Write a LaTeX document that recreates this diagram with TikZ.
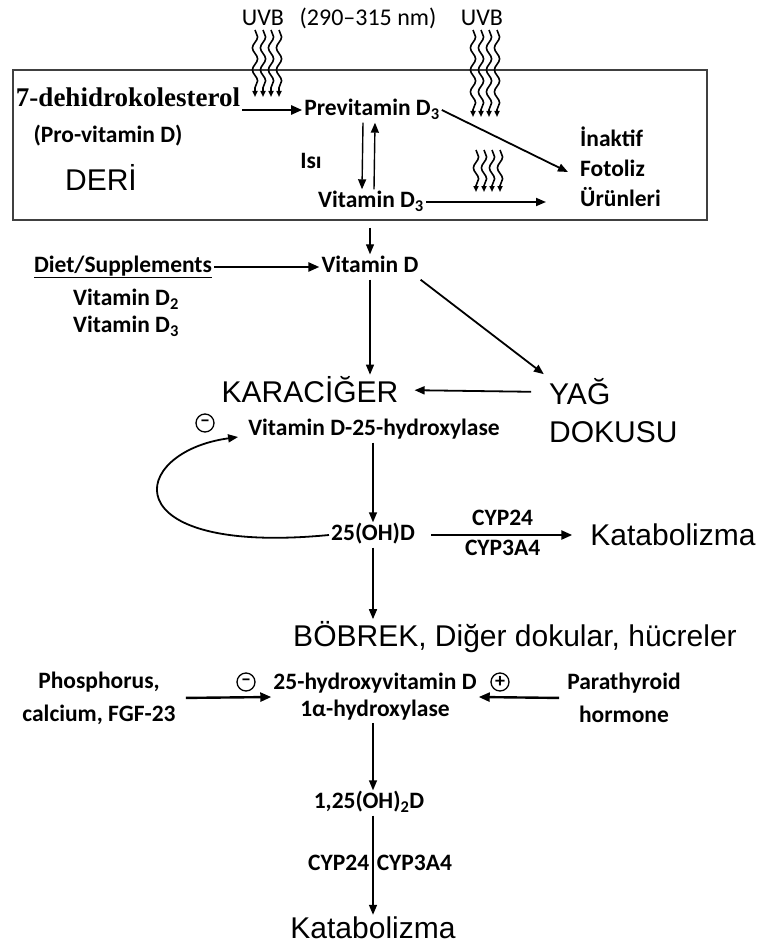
\documentclass[tikz,border=0pt]{standalone}
\usepackage{fontspec}
\setmainfont{Carlito}
\newfontfamily\arl{Liberation Sans}
\newfontfamily\tms{Liberation Serif}
\usetikzlibrary{arrows.meta,decorations.pathmorphing}
\begin{document}
\begin{tikzpicture}[x=1pt,y=-1pt,
  lbl/.style={font=\bfseries\fontsize{23.5}{28}\selectfont, inner sep=2pt, text height=16pt, text depth=5pt},
  lblm/.style={font=\bfseries\fontsize{23.5}{#1}\selectfont, inner sep=2pt},
  big/.style={font=\arl\fontsize{30}{34}\selectfont, inner sep=2pt},
  arr/.style={-{Triangle[length=10pt,width=8pt]}, line width=1.4pt},
  tarr/.style={-{Triangle[length=11pt,width=9pt]}, line width=2.4pt},
  wavy/.style={decorate, decoration={snake, amplitude=2.6pt, segment length=22pt, post length=6pt}, line width=1.6pt, -{Triangle[length=6pt,width=5pt]}},
  sign/.style={circle, draw, line width=1.3pt, inner sep=0pt, minimum size=18pt, font=\bfseries\fontsize{20}{20}\selectfont},
]
\useasboundingbox (0,0) rectangle (761,947);

% top labels
\node[lbl, font=\fontsize{24}{28}\selectfont] (uvb1) at (263,20) {UVB};
\node[lbl, font=\fontsize{24}{28}\selectfont] (nm) at (368,20) {(290–315 nm)};
\node[lbl, font=\fontsize{24}{28}\selectfont] (uvb2) at (482,20) {UVB};

% skin box
\node[draw=black!75, line width=1.8pt, minimum width=694pt, minimum height=150pt, inner sep=0pt] (box) at (360,145) {};

% UV wavy rays
\foreach \x in {255,263,271,279} \draw[wavy] (\x,30) -- (\x,97);
\foreach \x in {473,481,489,497} \draw[wavy] (\x,30) -- (\x,117);
\foreach \x in {476,484,492,500} \draw[wavy] (\x,150) -- (\x,192);

% inside box
\node[font=\tms\bfseries\fontsize{27}{30}\selectfont, inner sep=2pt] (dhc) at (128,97) {7-dehidrokolesterol};
\node[lbl] (prov) at (108,137) {(Pro-vitamin D)};
\node[big] (deri) at (101,177) {DERİ};
\node[lbl] (prev) at (372,110) {Previtamin D\textsubscript{3}};
\node[lbl] (isi) at (311,163) {Isı};
\node[lbl] (vd3) at (371,202) {Vitamin D\textsubscript{3}};
\node[lblm=30, anchor=west, align=left] (inak) at (578,167) {İnaktif\\Fotoliz\\Ürünleri};

\draw[tarr] (prev.west -| dhc.east) -- (prev.west);
\draw[arr] ([xshift=-9pt]prev.south) -- ([xshift=-9pt]vd3.north);
\draw[arr] ([xshift=3pt]vd3.north) -- ([xshift=3pt]prev.south);
\draw[arr, line width=1.8pt] (prev.east) -- ([xshift=-10pt,yshift=-5pt]inak.west);
\draw[arr, line width=1.8pt, shorten >=32pt] (vd3.east) -- (vd3.east -| inak.west);

% vitamin D
\node[lbl] (vitd) at (370,267) {Vitamin D};
\node[lbl] (diet) at (123,267) {\underline{Diet/Supplements}};
\node[lbl, anchor=west] (vd2) at (71,300) {Vitamin D\textsubscript{2}};
\node[lbl, anchor=west] (vd3b) at (71,327) {Vitamin D\textsubscript{3}};

\draw[arr, line width=1.2pt, shorten <=7pt] (box.south -| vitd) -- (vitd.north);
\draw[tarr] (diet.east) -- (vitd.west);

% liver / fat
\node[big] (kar) at (310,390) {KARACİĞER};
\node[big, anchor=west] (yag) at (547,392) {YAĞ};
\node[big, anchor=west] (dok) at (547,432) {DOKUSU};
\node[sign] (m1) at (205,423) {–};
\node[lbl] (hyd) at (374,430) {Vitamin D-25-hydroxylase};

\draw[arr] (vitd.south) -- (vitd.south |- kar.north);
\draw[arr, line width=1.8pt, shorten >=4pt] (vitd.south east) -- (yag.north west);
\draw[arr, line width=1.8pt, shorten <=16pt, shorten >=14pt] (yag.west) -- (kar.east);

% 25(OH)D
\node[lbl] (ohd) at (373,535) {25(OH)D};
\node[big] (kat1) at (673,535) {Katabolizma};
\draw[arr] (hyd.south -| ohd) -- (ohd.north);
\draw[tarr, shorten <=14pt, shorten >=16pt] (ohd.east) -- (kat1.west)
  node[lbl, midway, above=1pt] (c24a) {CYP24}
  node[lbl, midway, below=1pt] (c3a) {CYP3A4};
\draw[arr, line width=1.8pt] (ohd.west) .. controls (110,556) and (128,452) .. ([xshift=-8pt,yshift=-7pt]hyd.west);

% kidney
\node[big] (bob) at (515,637) {BÖBREK, Diğer dokular, hücreler};
\draw[arr, line width=1.6pt] (ohd.south) -- (ohd.south |- bob.north);

\node[lblm=33, align=center] (phos) at (99,698) {Phosphorus,\\calcium, FGF-23};
\node[lblm=27, align=center] (hyv) at (375,697) {25-hydroxyvitamin D\\1α-hydroxylase};
\node[lblm=33, align=center] (pth) at (624,698) {Parathyroid\\hormone};
\node[sign] (m2) at (246,682) {–};
\node[sign] (p1) at (500,682) {+};

\draw[tarr, shorten <=8pt] (phos.east) -- (hyv.west);
\draw[tarr, shorten <=6pt] (pth.west) -- (hyv.east);

% active form
\node[lbl] (d125) at (369,803) {1,25(OH)\textsubscript{2}D};
\node[big] (kat2) at (373,928) {Katabolizma};
\draw[arr] (hyv.south -| kat2) -- (d125.north -| kat2);
\draw[arr, line width=1.6pt] (d125.south -| kat2) -- (kat2.north)
  node[lbl, midway, left=1pt] (c24b) {CYP24}
  node[lbl, midway, right=1pt] (c3b) {CYP3A4};
\end{tikzpicture}
\end{document}
